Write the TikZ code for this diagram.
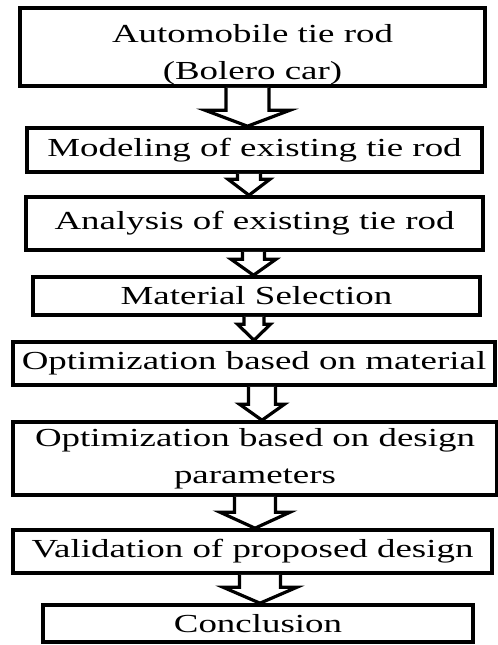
\documentclass[tikz,border=0pt]{standalone}
\usepackage{fontspec}
\setmainfont{Liberation Serif}[FakeStretch=1.42]
\usetikzlibrary{positioning, calc}

% hollow block arrow from the bottom of #2 down to the top of #3
% #4 = half width of the shaft, #5 = half width of the head (pt),
% optional #1 = sideways shift of the arrow (pt)
\newcommand{\blockarrow}[5][0]{%
  \draw[blk] let \p1=(#2.south), \p2=($(#3.north)+(#1pt,0)$) in
    (\x2-#4pt,\y1) -- (\x2-#4pt,\y2+8pt) -- (\x2-#5pt,\y2+8pt) -- (\x2,\y2)
    -- (\x2+#5pt,\y2+8pt) -- (\x2+#4pt,\y2+8pt) -- (\x2+#4pt,\y1);
}

\begin{document}
\begin{tikzpicture}[x=0.5pt, y=-0.5pt,
  font=\fontsize{13}{18.7}\selectfont,
  box/.style={draw=black, line width=1.8pt, fill=white, inner sep=0pt, align=center},
  blk/.style={draw=black, line width=1.6pt, fill=white, line join=miter}
]
  \useasboundingbox (0,0) rectangle (498,645);

  \node[box, minimum width=232.5pt, minimum height=39pt] (tie) at (252.5,47) {\rule{0pt}{17pt}Automobile tie rod\\(Bolero car)};
  \node[box, minimum width=227.5pt, minimum height=22pt] (model) at (254.5,150) {Modeling of existing tie rod};
  \node[box, minimum width=228.5pt, minimum height=26.5pt] (anal) at (254.5,223.5) {Analysis of existing tie rod};
  \node[box, minimum width=223.5pt, minimum height=19pt] (mat) at (256.5,296) {Material Selection};
  \node[box, minimum width=241pt, minimum height=21.5pt] (optm) at (254,363.5) {Optimization based on material};
  \node[box, minimum width=242pt, minimum height=36.5pt] (optd) at (255,458.5) {Optimization based on design\\parameters};
  \node[box, minimum width=239.5pt, minimum height=21.5pt] (valid) at (252.5,551.5) {Validation of proposed design};
  \node[box, minimum width=215pt, minimum height=18.5pt] (concl) at (258,623.5) {Conclusion};

  \blockarrow[-3.5]{tie}{model}{10.75}{21.25}
  \blockarrow[-2.75]{model}{anal}{5.75}{10.5}
  \blockarrow[-1.5]{anal}{mat}{5.5}{11.25}
  \blockarrow{mat}{optm}{5}{8.25}
  \blockarrow[3.5]{optm}{optd}{6.75}{11.25}
  \blockarrow[1.25]{optd}{valid}{10.25}{17.5}
  \blockarrow[1]{valid}{concl}{10.25}{18.5}
\end{tikzpicture}
\end{document}
